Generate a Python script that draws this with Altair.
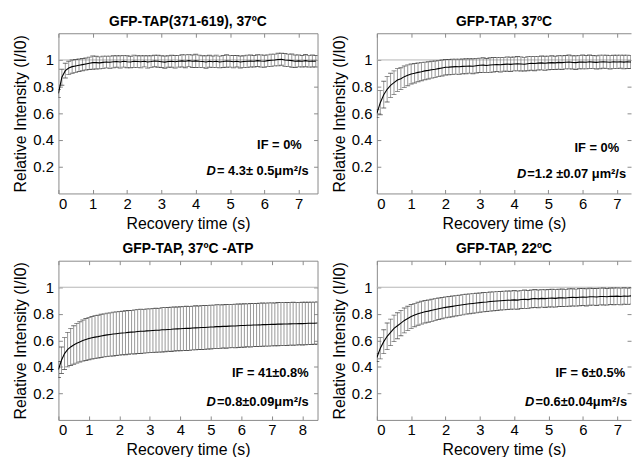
import altair as alt
import pandas as pd

# ---------------- data ----------------
TIME = [0.0, 0.1, 0.2, 0.3, 0.4, 0.5, 0.6, 0.7, 0.8, 0.9,
        1.0, 1.1, 1.2, 1.3, 1.4, 1.5, 1.6, 1.7, 1.8, 1.9,
        2.0, 2.1, 2.2, 2.3, 2.4, 2.5, 2.6, 2.7, 2.8, 2.9,
        3.0, 3.1, 3.2, 3.3, 3.4, 3.5, 3.6, 3.7, 3.8, 3.9,
        4.0, 4.1, 4.2, 4.3, 4.4, 4.5, 4.6, 4.7, 4.8, 4.9,
        5.0, 5.1, 5.2, 5.3, 5.4, 5.5, 5.6, 5.7, 5.8, 5.9,
        6.0, 6.1, 6.2, 6.3, 6.4, 6.5, 6.6, 6.7, 6.8, 6.9,
        7.0, 7.1, 7.2, 7.3, 7.4, 7.5, 7.6, 7.7, 7.8, 7.9,
        8.0, 8.1, 8.2, 8.3, 8.4, 8.5]

TITLES = ["GFP-TAP(371-619), 37\u00baC", "GFP-TAP, 37\u00baC",
          "GFP-TAP, 37\u00baC -ATP", "GFP-TAP, 22\u00baC"]
IF_TEXT = ["IF = 0%", "IF = 0%", "IF = 41\u00b10.8%", "IF = 6\u00b10.5%"]
D_TEXT = ["= 4.3\u00b1 0.5\u03bcm\u00b2/s", "=1.2 \u00b10.07 \u03bcm\u00b2/s",
          "=0.8\u00b10.09\u03bcm\u00b2/s", "=0.6\u00b10.04\u03bcm\u00b2/s"]
Y_TICKS = [0.2, 0.4, 0.6, 0.8, 1.0]
X_TICKS = [0, 1, 2, 3, 4, 5, 6, 7, 8]

A_MEAN = [0.75, 0.87, 0.92, 0.94, 0.95, 0.955, 0.96, 0.965, 0.97, 0.975,
          0.98, 0.98, 0.978, 0.982, 0.985, 0.983, 0.986, 0.988, 0.985, 0.99,
          0.987, 0.985, 0.99, 0.988, 0.986, 0.99, 0.985, 0.988, 0.992, 0.99,
          0.987, 0.984, 0.988, 0.99, 0.986, 0.99, 0.993, 0.99, 0.995, 0.99,
          0.993, 0.99, 0.988, 0.985, 0.99, 0.987, 0.99, 0.985, 0.988, 0.992,
          0.99, 0.987, 0.99, 0.985, 0.988, 0.99, 0.992, 0.99, 0.995, 0.992,
          0.99, 0.995, 0.998, 1.0, 1.003, 1.005, 1.0, 0.998, 0.995, 0.99,
          0.993, 0.99, 0.995, 0.99, 0.992, 0.99]
A_ERR = [0.03, 0.06, 0.055, 0.05, 0.05, 0.048, 0.047, 0.046, 0.045, 0.046,
         0.05, 0.048, 0.045, 0.047, 0.044, 0.046, 0.045, 0.043, 0.046, 0.044,
         0.045, 0.043, 0.046, 0.044, 0.045, 0.042, 0.046, 0.044, 0.043, 0.045,
         0.044, 0.046, 0.043, 0.045, 0.047, 0.044, 0.046, 0.048, 0.045, 0.047,
         0.05, 0.046, 0.044, 0.047, 0.045, 0.043, 0.046, 0.044, 0.045, 0.047,
         0.044, 0.046, 0.043, 0.045, 0.044, 0.046, 0.045, 0.043, 0.044, 0.046,
         0.045, 0.043, 0.046, 0.044, 0.047, 0.045, 0.048, 0.046, 0.05, 0.047,
         0.045, 0.043, 0.046, 0.044, 0.045, 0.043]

B_MEAN = [0.60, 0.68, 0.74, 0.78, 0.81, 0.83, 0.85, 0.86, 0.875, 0.885,
          0.895, 0.90, 0.907, 0.912, 0.918, 0.922, 0.927, 0.93, 0.935, 0.94,
          0.945, 0.946, 0.948, 0.95, 0.949, 0.952, 0.953, 0.955, 0.953, 0.957,
          0.96, 0.961, 0.958, 0.962, 0.964, 0.966, 0.964, 0.967, 0.969, 0.967,
          0.97, 0.972, 0.97, 0.968, 0.972, 0.975, 0.973, 0.976, 0.978, 0.975,
          0.978, 0.98, 0.978, 0.982, 0.98, 0.983, 0.985, 0.982, 0.98, 0.984,
          0.985, 0.983, 0.986, 0.984, 0.982, 0.985, 0.987, 0.985, 0.983, 0.986,
          0.985, 0.987, 0.984, 0.986, 0.985, 0.984]
B_ERR = [0.03, 0.09, 0.1, 0.095, 0.09, 0.088, 0.085, 0.082, 0.08, 0.078,
         0.075, 0.073, 0.07, 0.068, 0.066, 0.065, 0.063, 0.062, 0.06, 0.06,
         0.058, 0.057, 0.058, 0.056, 0.057, 0.055, 0.056, 0.054, 0.056, 0.055,
         0.054, 0.056, 0.053, 0.055, 0.054, 0.053, 0.055, 0.052, 0.054, 0.053,
         0.052, 0.054, 0.053, 0.051, 0.053, 0.052, 0.054, 0.051, 0.052, 0.053,
         0.051, 0.052, 0.05, 0.052, 0.051, 0.05, 0.052, 0.05, 0.051, 0.05,
         0.052, 0.05, 0.051, 0.049, 0.05, 0.051, 0.049, 0.05, 0.051, 0.049,
         0.05, 0.049, 0.051, 0.05, 0.049, 0.05]

C_MEAN = [0.38, 0.45, 0.50, 0.53, 0.55, 0.565, 0.578, 0.588, 0.598, 0.606,
          0.613, 0.619, 0.624, 0.628, 0.633, 0.637, 0.641, 0.644, 0.647, 0.65,
          0.653, 0.655, 0.657, 0.66, 0.662, 0.663, 0.666, 0.668, 0.668, 0.671,
          0.672, 0.674, 0.676, 0.676, 0.679, 0.68, 0.682, 0.683, 0.685, 0.686,
          0.687, 0.689, 0.69, 0.69, 0.693, 0.694, 0.695, 0.697, 0.697, 0.699,
          0.70, 0.701, 0.703, 0.703, 0.705, 0.705, 0.707, 0.708, 0.708, 0.71,
          0.711, 0.712, 0.713, 0.713, 0.715, 0.715, 0.716, 0.718, 0.718, 0.719,
          0.72, 0.72, 0.722, 0.722, 0.723, 0.723, 0.724, 0.725, 0.725, 0.726,
          0.726, 0.727, 0.728, 0.728, 0.729, 0.73]
C_ERR = [0.06, 0.1, 0.12, 0.13, 0.14, 0.145, 0.15, 0.152, 0.155, 0.158,
         0.16, 0.16, 0.162, 0.161, 0.163, 0.162, 0.164, 0.163, 0.165, 0.164,
         0.165, 0.164, 0.166, 0.165, 0.164, 0.166, 0.165, 0.167, 0.165, 0.166,
         0.165, 0.167, 0.166, 0.165, 0.167, 0.166, 0.165, 0.167, 0.166, 0.165,
         0.166, 0.165, 0.167, 0.166, 0.165, 0.166, 0.164, 0.166, 0.165, 0.164,
         0.165, 0.164, 0.166, 0.164, 0.163, 0.165, 0.164, 0.163, 0.165, 0.164,
         0.163, 0.164, 0.162, 0.164, 0.163, 0.162, 0.164, 0.163, 0.162, 0.163,
         0.162, 0.161, 0.163, 0.162, 0.161, 0.162, 0.16, 0.162, 0.161, 0.16,
         0.161, 0.16, 0.159, 0.16, 0.159, 0.16]

D_MEAN = [0.47, 0.54, 0.59, 0.63, 0.66, 0.69, 0.71, 0.73, 0.75, 0.765,
          0.78, 0.79, 0.80, 0.808, 0.815, 0.82, 0.826, 0.832, 0.838, 0.843,
          0.848, 0.852, 0.856, 0.86, 0.864, 0.868, 0.872, 0.875, 0.878, 0.881,
          0.884, 0.887, 0.889, 0.892, 0.894, 0.896, 0.898, 0.9, 0.902, 0.903,
          0.905, 0.903, 0.908, 0.91, 0.907, 0.912, 0.915, 0.912, 0.916, 0.914,
          0.917, 0.918, 0.916, 0.92, 0.921, 0.919, 0.923, 0.924, 0.922, 0.925,
          0.926, 0.924, 0.928, 0.928, 0.926, 0.93, 0.93, 0.928, 0.932, 0.931,
          0.933, 0.93, 0.934, 0.932, 0.935, 0.934]
D_ERR = [0.03, 0.08, 0.09, 0.1, 0.1, 0.1, 0.098, 0.096, 0.094, 0.092,
         0.09, 0.088, 0.087, 0.086, 0.085, 0.084, 0.083, 0.082, 0.081, 0.08,
         0.079, 0.078, 0.078, 0.077, 0.076, 0.076, 0.075, 0.075, 0.074, 0.074,
         0.073, 0.073, 0.072, 0.072, 0.071, 0.071, 0.07, 0.071, 0.07, 0.069,
         0.07, 0.069, 0.068, 0.069, 0.068, 0.067, 0.068, 0.067, 0.066, 0.067,
         0.066, 0.067, 0.066, 0.065, 0.066, 0.065, 0.066, 0.065, 0.064, 0.065,
         0.064, 0.065, 0.064, 0.063, 0.064, 0.063, 0.064, 0.063, 0.062, 0.063,
         0.062, 0.063, 0.062, 0.061, 0.062, 0.061]

# ---------------- styling ----------------
FONT = "Liberation Sans"
FRAME = "#8a8a8a"
ANN_SIZE = 13
BOLD_W = {'=': 0.584, ' ': 0.278, '.': 0.278, '\u00b1': 0.549, '\u03bc': 0.611,
          'm': 0.889, '\u00b2': 0.333, '/': 0.278, 's': 0.556, '%': 0.889}


def text_width(s, size):
    return sum(BOLD_W.get(c, 0.556) for c in s) * size


def panel(idx, mean, err, xmax, w, h, right_border, ann):
    n = len(mean)
    df = pd.DataFrame({
        "t": TIME[:n],
        "m": mean,
        "lo": [a - b for a, b in zip(mean, err)],
        "hi": [a + b for a, b in zip(mean, err)],
    })
    xt = [v for v in X_TICKS if v <= xmax]
    xs = alt.Scale(domain=[0, xmax], nice=False, zero=False)
    ys = alt.Scale(domain=[0, 1.2], nice=False, zero=False)

    ax_main = alt.Axis(orient="bottom", values=xt, format="d", ticks=False, tickSize=0,
                       domain=True, domainColor=FRAME, grid=False,
                       labelFontSize=15, labelPadding=3, labelColor="black",
                       title="Recovery time (s)", titleFontSize=16,
                       titleFontWeight="normal", titlePadding=4, titleColor="black")
    ay_main = alt.Axis(orient="left", values=Y_TICKS, format="~g", ticks=False, tickSize=0,
                       domain=True, domainColor=FRAME, grid=False,
                       labelFontSize=15, labelPadding=5, labelColor="black",
                       title="Relative Intensity (I/I0)", titleFontSize=16,
                       titleFontWeight="normal", titlePadding=4, titleColor="black")
    ax_in_bottom = alt.Axis(orient="top", offset=-h, values=xt, labels=False,
                            domain=False, ticks=True, tickSize=4, tickColor=FRAME,
                            grid=False, title="")
    ax_top = alt.Axis(orient="bottom", offset=-h, values=xt, labels=False,
                      domain=True, domainColor=FRAME, ticks=True, tickSize=4,
                      tickColor=FRAME, grid=False, title="")
    ay_in_left = alt.Axis(orient="right", offset=-w, values=Y_TICKS, labels=False,
                          domain=False, ticks=True, tickSize=4, tickColor=FRAME,
                          grid=False, title="")
    ay_right = alt.Axis(orient="left", offset=-w, values=Y_TICKS, labels=False,
                        domain=right_border, domainColor=FRAME, ticks=True, tickSize=4,
                        tickColor=FRAME, grid=False, title="")

    base = alt.Chart(df)
    ref = alt.Chart(pd.DataFrame({"v": [1.0]})).mark_rule(
        color="#b5b5b5", strokeWidth=1).encode(
        y=alt.Y("v:Q", scale=ys, axis=None))
    bars = base.mark_rule(color="#7d7d7d", strokeWidth=0.8, clip=True).encode(
        x=alt.X("t:Q", scale=xs, axis=ax_in_bottom),
        y=alt.Y("lo:Q", scale=ys, axis=ay_in_left),
        y2="hi:Q")
    cap_lo = base.mark_tick(orient="horizontal", size=5, thickness=0.9,
                            color="#333333", clip=True).encode(
        x=alt.X("t:Q", scale=xs, axis=ax_top),
        y=alt.Y("lo:Q", scale=ys, axis=ay_right))
    cap_hi = base.mark_tick(orient="horizontal", size=5, thickness=0.9,
                            color="#333333", clip=True).encode(
        x=alt.X("t:Q", scale=xs, axis=None),
        y=alt.Y("hi:Q", scale=ys, axis=None))
    line = base.mark_line(color="black", strokeWidth=1.1, clip=True).encode(
        x=alt.X("t:Q", scale=xs, axis=ax_main),
        y=alt.Y("m:Q", scale=ys, axis=ay_main))

    (if_x, if_y), (d_x, d_y) = ann
    rest = D_TEXT[idx]
    t_if = alt.Chart(pd.DataFrame({"s": [IF_TEXT[idx]]})).mark_text(
        align="right", baseline="middle", fontSize=ANN_SIZE, fontWeight="bold",
        color="black").encode(text="s:N", x=alt.value(if_x), y=alt.value(if_y))
    t_rest = alt.Chart(pd.DataFrame({"s": [rest]})).mark_text(
        align="right", baseline="middle", fontSize=ANN_SIZE, fontWeight="bold",
        color="black").encode(text="s:N", x=alt.value(d_x), y=alt.value(d_y))
    t_d = alt.Chart(pd.DataFrame({"s": ["D"]})).mark_text(
        align="right", baseline="middle", fontSize=ANN_SIZE, fontWeight="bold",
        fontStyle="italic", color="black").encode(
        text="s:N", x=alt.value(d_x - text_width(rest, ANN_SIZE) - 1), y=alt.value(d_y))

    return alt.layer(ref, bars, cap_lo, cap_hi, line, t_if, t_rest, t_d).resolve_axis(
        x="independent", y="independent").properties(
        width=w, height=h,
        title=alt.TitleParams(TITLES[idx], fontSize=14, fontWeight="bold",
                              anchor="middle", frame="group", offset=4, color="black"))


pA = panel(0, A_MEAN, A_ERR, 7.55, 262, 162, True, ((246, 113), (253, 139)))
pB = panel(1, B_MEAN, B_ERR, 7.41, 257, 162, False, ((245, 116), (252, 142)))
pC = panel(2, C_MEAN, C_ERR, 8.5, 262, 161, True, ((253, 114), (253, 143)))
pD = panel(3, D_MEAN, D_ERR, 7.4, 257, 161, False, ((251, 114), (253, 143)))

chart = alt.concat(pA, pB, pC, pD, columns=2, spacing={"row": 68, "column": 60},
                   bounds="flush").properties(
    padding={"left": 5, "top": 4, "right": 0, "bottom": 0}
).configure(font=FONT).configure_view(strokeOpacity=0)

chart.save("out.html", embed_options={"renderer": "svg", "actions": False})
